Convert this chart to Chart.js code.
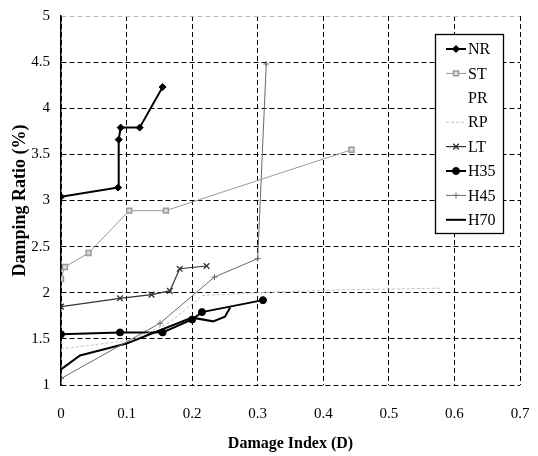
<!DOCTYPE html>
<html>
<head>
<meta charset="utf-8">
<script src="https://cdn.jsdelivr.net/npm/chart.js"></script>
<style>
  body { margin: 0; background: #fff; }
  canvas { display: block; }
</style>
</head>
<body>
<canvas id="chart" width="538" height="456"></canvas>
<script>
// damage index (x) vs damping ratio (y) per specimen
const nrX = [0, 0.087, 0.088, 0.091, 0.12, 0.155];
const nrY = [3.04, 3.14, 3.66, 3.79, 3.79, 4.23];

const stX = [0, 0.006, 0.042, 0.104, 0.16, 0.443];
const stY = [2.15, 2.28, 2.43, 2.89, 2.89, 3.55];

const prX = [];
const prY = [];

const rpX = [0, 0.11, 0.166, 0.216, 0.30, 0.42, 0.58];
const rpY = [1.39, 1.49, 1.68, 1.97, 2.0, 2.03, 2.05];

const ltX = [0, 0.09, 0.138, 0.166, 0.181, 0.222];
const ltY = [1.85, 1.94, 1.98, 2.02, 2.26, 2.29];

const h35X = [0, 0.09, 0.155, 0.2, 0.215, 0.308];
const h35Y = [1.55, 1.57, 1.57, 1.71, 1.79, 1.92];

const h45X = [0, 0.151, 0.234, 0.30, 0.313];
const h45Y = [1.07, 1.67, 2.17, 2.37, 4.48];

const h70X = [0, 0.029, 0.1, 0.2, 0.232, 0.25, 0.258];
const h70Y = [1.17, 1.32, 1.45, 1.73, 1.69, 1.74, 1.84];

const xTicks = [0, 0.1, 0.2, 0.3, 0.4, 0.5, 0.6, 0.7];
const yTicks = [1, 1.5, 2, 2.5, 3, 3.5, 4, 4.5, 5];

const serif = "'Liberation Serif', 'Times New Roman', serif";

function pts(xs, ys) {
  return xs.map((x, i) => ({ x: x, y: ys[i] }));
}

function series(label, xs, ys, color, width, style, radius, extra) {
  return Object.assign({
    label: label,
    data: pts(xs, ys),
    borderColor: color,
    backgroundColor: color,
    borderWidth: width,
    pointStyle: style,
    pointRadius: radius,
    pointBorderColor: color,
    pointBackgroundColor: color,
    pointBorderWidth: 1,
    tension: 0,
    fill: false
  }, extra || {});
}

const datasets = [
  series("NR", nrX, nrY, "#000", 2, "rectRot", 3.5),
  series("ST", stX, stY, "#999", 1, "rect", 3.5, { pointBackgroundColor: "#ddd", pointBorderWidth: 1.5 }),
  series("PR", prX, prY, "rgba(0,0,0,0)", 1, false, 0),
  series("RP", rpX, rpY, "#c4c4c4", 1, "circle", 0, { borderDash: [3, 2] }),
  series("LT", ltX, ltY, "#333", 1.2, "crossRot", 4, { pointBorderWidth: 1.3 }),
  series("H35", h35X, h35Y, "#000", 2, "circle", 3.5),
  series("H45", h45X, h45Y, "#6a6a6a", 1, "cross", 3, { pointBorderWidth: 1 }),
  series("H70", h70X, h70Y, "#000", 2, false, 0)
];

// legend drawn inside the plot, top right
const boxLegend = {
  id: "boxLegend",
  afterDraw(chart) {
    const ctx = chart.ctx;
    const left = 435, top = 34, w = 68, h = 199;
    ctx.save();
    ctx.fillStyle = "#fff";
    ctx.fillRect(left, top, w, h);
    ctx.strokeStyle = "#000";
    ctx.lineWidth = 1.3;
    ctx.strokeRect(left + 0.5, top + 0.5, w, h);
    ctx.font = "16px " + serif;
    ctx.textBaseline = "middle";
    chart.data.datasets.forEach((ds, i) => {
      const y = 49 + i * 24.4;
      ctx.setLineDash(ds.borderDash || []);
      ctx.strokeStyle = ds.borderColor;
      ctx.lineWidth = ds.borderWidth;
      ctx.beginPath();
      ctx.moveTo(446, y);
      ctx.lineTo(466, y);
      ctx.stroke();
      ctx.setLineDash([]);
      if (ds.pointStyle && ds.pointRadius > 0) {
        ctx.fillStyle = ds.pointBackgroundColor;
        ctx.strokeStyle = ds.pointBorderColor;
        ctx.lineWidth = ds.pointBorderWidth;
        Chart.helpers.drawPoint(ctx, {
          pointStyle: ds.pointStyle,
          radius: ds.pointRadius,
          borderWidth: ds.pointBorderWidth,
          rotation: 0
        }, 456, y);
      }
      ctx.fillStyle = "#000";
      ctx.fillText(ds.label, 468, y + 1);
    });
    ctx.restore();
  }
};

new Chart(document.getElementById("chart"), {
  type: "line",
  data: { datasets: datasets },
  plugins: [boxLegend],
  options: {
    responsive: false,
    animation: false,
    layout: { padding: { left: 0, right: 18, top: 16, bottom: 0 } },
    plugins: {
      legend: { display: false },
      tooltip: { enabled: false }
    },
    scales: {
      x: {
        type: "linear",
        min: 0,
        max: 0.7,
        afterBuildTicks: s => { s.ticks = xTicks.map(v => ({ value: v })); },
        afterFit: s => { s.height = 71; s.paddingLeft = 0; s.paddingRight = 0; },
        ticks: {
          padding: 20,
          color: "#000",
          font: { family: serif, size: 15 },
          callback: v => String(v)
        },
        grid: { color: "#000", lineWidth: 1, drawTicks: false },
        border: { display: false, dash: [5, 3] },
        title: {
          display: true,
          text: "Damage Index (D)",
          color: "#000",
          font: { family: serif, size: 16, weight: "bold" },
          padding: { top: 0, bottom: 3 }
        }
      },
      y: {
        min: 1,
        max: 5,
        afterBuildTicks: s => { s.ticks = yTicks.map(v => ({ value: v })); },
        afterFit: s => { s.width = 61; s.paddingTop = 0; s.paddingBottom = 0; },
        ticks: {
          padding: 11,
          color: "#000",
          font: { family: serif, size: 15 },
          callback: v => String(v)
        },
        grid: {
          color: c => (c.tick && c.tick.value === 5 ? "#bbb" : "#000"),
          lineWidth: 1,
          drawTicks: false
        },
        border: { display: true, color: "#000", width: 1.5, dash: [5, 3] },
        title: {
          display: true,
          text: "Damping Ratio (%)",
          color: "#000",
          font: { family: serif, size: 18, weight: "bold" },
          padding: { top: 10, bottom: 0 }
        }
      }
    }
  }
});
</script>
</body>
</html>
